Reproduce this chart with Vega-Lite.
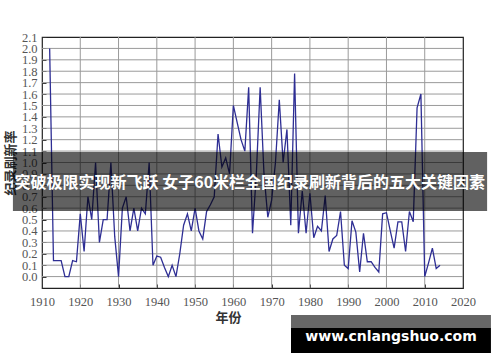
{
  "$schema": "https://vega.github.io/schema/vega-lite/v6.json",
  "width": 421,
  "height": 251,
  "autosize": {"type": "none"},
  "padding": {"left": 42, "top": 37, "right": 37, "bottom": 74},
  "background": "white",
  "config": {
    "view": {"stroke": "#222", "strokeWidth": 1.2},
    "axis": {
      "grid": false,
      "domain": false, "ticks": true, "tickSize": -4, "tickColor": "#333",
      "labelOverlap": false, "labelBound": false, "labelFlush": false,
      "labelFont": "Liberation Serif", "labelFontSize": 12.5, "labelColor": "#555",
      "titleFont": "Noto Sans CJK SC", "titleFontWeight": "bold", "titleColor": "#333", "titleFontSize": 13
    },
    "axisX": {"labelPadding": 11, "titlePadding": 4, "titleX": 186},
    "axisY": {"labelPadding": 9, "titlePadding": 4}
  },
  "layer": [
    {
      "data": {"values": [{"gx": 1920}, {"gx": 1930}, {"gx": 1940}, {"gx": 1950}, {"gx": 1960}, {"gx": 1970}, {"gx": 1980}, {"gx": 1990}, {"gx": 2000}, {"gx": 2010}]},
      "mark": {"type": "rule", "color": "#9a9a9a", "strokeWidth": 1},
      "encoding": {
        "x": {"field": "gx", "type": "quantitative", "axis": {"values": [1910, 1920, 1930, 1940, 1950, 1960, 1970, 1980, 1990, 2000, 2010, 2020], "format": "d", "title": "年份"}}
      }
    },
    {
      "data": {"values": [{"gy": 0.0}, {"gy": 0.1}, {"gy": 0.2}, {"gy": 0.3}, {"gy": 0.4}, {"gy": 0.5}, {"gy": 0.6}, {"gy": 0.7}, {"gy": 0.8}, {"gy": 0.9}, {"gy": 1.0}, {"gy": 1.1}, {"gy": 1.2}, {"gy": 1.3}, {"gy": 1.4}, {"gy": 1.5}, {"gy": 1.6}, {"gy": 1.7}, {"gy": 1.8}, {"gy": 1.9}, {"gy": 2.0}]},
      "mark": {"type": "rule", "color": "#9a9a9a", "strokeWidth": 1},
      "encoding": {
        "y": {"field": "gy", "type": "quantitative", "axis": {"values": [0, 0.1, 0.2, 0.3, 0.4, 0.5, 0.6, 0.7, 0.8, 0.9, 1.0, 1.1, 1.2, 1.3, 1.4, 1.5, 1.6, 1.7, 1.8, 1.9, 2.0, 2.1], "format": ".1f", "title": "纪录刷新率"}}
      }
    },
    {
      "data": {"values": [
        {"year": 1912, "rate": 2.0},
        {"year": 1913, "rate": 0.14},
        {"year": 1914, "rate": 0.14},
        {"year": 1915, "rate": 0.14},
        {"year": 1916, "rate": 0.0},
        {"year": 1917, "rate": 0.0},
        {"year": 1918, "rate": 0.14},
        {"year": 1919, "rate": 0.13},
        {"year": 1920, "rate": 0.55},
        {"year": 1921, "rate": 0.22},
        {"year": 1922, "rate": 0.7},
        {"year": 1923, "rate": 0.5},
        {"year": 1924, "rate": 1.0},
        {"year": 1925, "rate": 0.3},
        {"year": 1926, "rate": 0.5},
        {"year": 1927, "rate": 0.5},
        {"year": 1928, "rate": 1.0},
        {"year": 1929, "rate": 0.35},
        {"year": 1930, "rate": 0.0},
        {"year": 1931, "rate": 0.6},
        {"year": 1932, "rate": 0.7},
        {"year": 1933, "rate": 0.4},
        {"year": 1934, "rate": 0.6},
        {"year": 1935, "rate": 0.4},
        {"year": 1936, "rate": 0.6},
        {"year": 1937, "rate": 0.55},
        {"year": 1938, "rate": 1.0},
        {"year": 1939, "rate": 0.1},
        {"year": 1940, "rate": 0.18},
        {"year": 1941, "rate": 0.17},
        {"year": 1942, "rate": 0.08},
        {"year": 1943, "rate": 0.0},
        {"year": 1944, "rate": 0.1},
        {"year": 1945, "rate": 0.0},
        {"year": 1946, "rate": 0.2},
        {"year": 1947, "rate": 0.45},
        {"year": 1948, "rate": 0.55},
        {"year": 1949, "rate": 0.4},
        {"year": 1950, "rate": 0.6},
        {"year": 1951, "rate": 0.4},
        {"year": 1952, "rate": 0.33},
        {"year": 1953, "rate": 0.57},
        {"year": 1954, "rate": 0.63},
        {"year": 1955, "rate": 0.7},
        {"year": 1956, "rate": 1.25},
        {"year": 1957, "rate": 0.96},
        {"year": 1958, "rate": 1.04},
        {"year": 1959, "rate": 0.9},
        {"year": 1960, "rate": 1.5},
        {"year": 1961, "rate": 1.35},
        {"year": 1962, "rate": 1.2},
        {"year": 1963, "rate": 1.1},
        {"year": 1964, "rate": 1.66},
        {"year": 1965, "rate": 0.38},
        {"year": 1966, "rate": 0.9},
        {"year": 1967, "rate": 1.66},
        {"year": 1968, "rate": 0.9},
        {"year": 1969, "rate": 0.52},
        {"year": 1970, "rate": 0.67},
        {"year": 1971, "rate": 1.0},
        {"year": 1972, "rate": 1.55},
        {"year": 1973, "rate": 1.0},
        {"year": 1974, "rate": 1.29},
        {"year": 1975, "rate": 0.45},
        {"year": 1976, "rate": 1.78},
        {"year": 1977, "rate": 0.38},
        {"year": 1978, "rate": 0.75},
        {"year": 1979, "rate": 0.38},
        {"year": 1980, "rate": 0.73},
        {"year": 1981, "rate": 0.34},
        {"year": 1982, "rate": 0.44},
        {"year": 1983, "rate": 0.4},
        {"year": 1984, "rate": 0.71},
        {"year": 1985, "rate": 0.22},
        {"year": 1986, "rate": 0.33},
        {"year": 1987, "rate": 0.36},
        {"year": 1988, "rate": 0.57},
        {"year": 1989, "rate": 0.1},
        {"year": 1990, "rate": 0.07},
        {"year": 1991, "rate": 0.49},
        {"year": 1992, "rate": 0.39},
        {"year": 1993, "rate": 0.04},
        {"year": 1994, "rate": 0.38},
        {"year": 1995, "rate": 0.13},
        {"year": 1996, "rate": 0.13},
        {"year": 1997, "rate": 0.08},
        {"year": 1998, "rate": 0.04},
        {"year": 1999, "rate": 0.55},
        {"year": 2000, "rate": 0.56},
        {"year": 2001, "rate": 0.4},
        {"year": 2002, "rate": 0.25},
        {"year": 2003, "rate": 0.48},
        {"year": 2004, "rate": 0.48},
        {"year": 2005, "rate": 0.22},
        {"year": 2006, "rate": 0.57},
        {"year": 2007, "rate": 0.48},
        {"year": 2008, "rate": 1.48},
        {"year": 2009, "rate": 1.6},
        {"year": 2010, "rate": 0.0},
        {"year": 2011, "rate": 0.12},
        {"year": 2012, "rate": 0.25},
        {"year": 2013, "rate": 0.07},
        {"year": 2014, "rate": 0.1}
      ]},
      "mark": {"type": "line", "color": "#2e2e94", "strokeWidth": 1.3},
      "encoding": {
        "x": {
          "field": "year", "type": "quantitative",
          "scale": {"domain": [1910, 2020], "nice": false, "zero": false},
          "axis": {"values": [1910, 1920, 1930, 1940, 1950, 1960, 1970, 1980, 1990, 2000, 2010, 2020], "format": "d", "title": "年份"}
        },
        "y": {
          "field": "rate", "type": "quantitative",
          "scale": {"domain": [-0.1, 2.1], "nice": false, "zero": false},
          "axis": {"values": [0, 0.1, 0.2, 0.3, 0.4, 0.5, 0.6, 0.7, 0.8, 0.9, 1.0, 1.1, 1.2, 1.3, 1.4, 1.5, 1.6, 1.7, 1.8, 1.9, 2.0, 2.1], "format": ".1f", "title": "纪录刷新率"}
        }
      }
    },
    {
      "data": {"values": [{"kind": "banner"}]},
      "mark": {"type": "rect", "color": "black", "opacity": 0.62},
      "encoding": {
        "x": {"datum": 1902.4, "type": "quantitative", "axis": {"values": [1910, 1920, 1930, 1940, 1950, 1960, 1970, 1980, 1990, 2000, 2010, 2020], "format": "d", "title": "年份"}},
        "x2": {"datum": 2026.3},
        "y": {"datum": 1.092, "type": "quantitative", "axis": {"values": [0, 0.1, 0.2, 0.3, 0.4, 0.5, 0.6, 0.7, 0.8, 0.9, 1.0, 1.1, 1.2, 1.3, 1.4, 1.5, 1.6, 1.7, 1.8, 1.9, 2.0, 2.1], "format": ".1f", "title": "纪录刷新率"}},
        "y2": {"datum": 0.575}
      }
    },
    {
      "data": {"values": [{"text": "突破极限实现新飞跃 女子60米栏全国纪录刷新背后的五大关键因素"}]},
      "mark": {"type": "text", "color": "white", "font": "Noto Sans CJK SC", "fontWeight": "bold", "fontSize": 16, "align": "center", "baseline": "middle"},
      "encoding": {
        "x": {"datum": 1964.3, "type": "quantitative", "axis": {"values": [1910, 1920, 1930, 1940, 1950, 1960, 1970, 1980, 1990, 2000, 2010, 2020], "format": "d", "title": "年份"}},
        "y": {"datum": 0.82, "type": "quantitative", "axis": {"values": [0, 0.1, 0.2, 0.3, 0.4, 0.5, 0.6, 0.7, 0.8, 0.9, 1.0, 1.1, 1.2, 1.3, 1.4, 1.5, 1.6, 1.7, 1.8, 1.9, 2.0, 2.1], "format": ".1f", "title": "纪录刷新率"}},
        "text": {"field": "text"}
      }
    },
    {
      "data": {"values": [{"kind": "watermark-top"}]},
      "mark": {"type": "rect", "color": "#666666"},
      "encoding": {
        "x": {"datum": 1975.06, "type": "quantitative", "axis": {"values": [1910, 1920, 1930, 1940, 1950, 1960, 1970, 1980, 1990, 2000, 2010, 2020], "format": "d", "title": "年份"}},
        "x2": {"datum": 2027.3},
        "y": {"datum": -0.337, "type": "quantitative", "axis": {"values": [0, 0.1, 0.2, 0.3, 0.4, 0.5, 0.6, 0.7, 0.8, 0.9, 1.0, 1.1, 1.2, 1.3, 1.4, 1.5, 1.6, 1.7, 1.8, 1.9, 2.0, 2.1], "format": ".1f", "title": "纪录刷新率"}},
        "y2": {"datum": -0.451}
      }
    },
    {
      "data": {"values": [{"kind": "watermark-bottom"}]},
      "mark": {"type": "rect", "color": "black"},
      "encoding": {
        "x": {"datum": 1975.06, "type": "quantitative", "axis": {"values": [1910, 1920, 1930, 1940, 1950, 1960, 1970, 1980, 1990, 2000, 2010, 2020], "format": "d", "title": "年份"}},
        "x2": {"datum": 2027.3},
        "y": {"datum": -0.451, "type": "quantitative", "axis": {"values": [0, 0.1, 0.2, 0.3, 0.4, 0.5, 0.6, 0.7, 0.8, 0.9, 1.0, 1.1, 1.2, 1.3, 1.4, 1.5, 1.6, 1.7, 1.8, 1.9, 2.0, 2.1], "format": ".1f", "title": "纪录刷新率"}},
        "y2": {"datum": -0.67}
      }
    },
    {
      "data": {"values": [{"text": "www.cnlangshuo.com"}]},
      "mark": {"type": "text", "color": "white", "font": "DejaVu Sans", "fontWeight": "bold", "fontSize": 14, "align": "center", "baseline": "middle"},
      "encoding": {
        "x": {"datum": 2001.2, "type": "quantitative", "axis": {"values": [1910, 1920, 1930, 1940, 1950, 1960, 1970, 1980, 1990, 2000, 2010, 2020], "format": "d", "title": "年份"}},
        "y": {"datum": -0.53, "type": "quantitative", "axis": {"values": [0, 0.1, 0.2, 0.3, 0.4, 0.5, 0.6, 0.7, 0.8, 0.9, 1.0, 1.1, 1.2, 1.3, 1.4, 1.5, 1.6, 1.7, 1.8, 1.9, 2.0, 2.1], "format": ".1f", "title": "纪录刷新率"}},
        "text": {"field": "text"}
      }
    }
  ]
}
